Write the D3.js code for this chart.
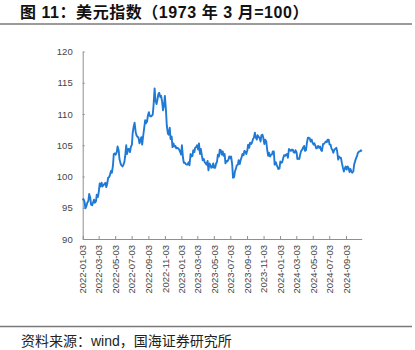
<!DOCTYPE html>
<html>
<head>
<meta charset="utf-8">
<script src="https://cdn.jsdelivr.net/npm/d3@7"></script>
<style>
  html, body { margin: 0; padding: 0; background: #fff; }
  svg { display: block; }
</style>
</head>
<body>
<svg id="chart" width="415" height="350"></svg>
<script>
// US Dollar Index (March 1973 = 100), sampled each Monday and Thursday
const dxy2022 = [
  96.2, 96.4, 95.9, 94.9, 95.3, 95.8, 96.1, 97.2, 96.6,          // Jan
  95.5, 95.4, 95.8, 96.3, 95.8, 96.0, 97.1, 96.7,                // Feb
  97.4, 98.9, 98.4, 99.0, 98.4, 98.6, 98.8, 99.0, 98.3,          // Mar
  98.9, 99.8, 99.9, 100.3, 100.9, 100.6, 101.8, 103.6,           // Apr
  103.7, 103.5, 103.9, 104.8, 104.2, 102.8, 102.1, 101.8, 101.6, // May
  101.8, 102.3, 103.2, 105.0, 103.6, 104.4, 104.4, 103.9, 104.7, // Jun
  105.1, 107.0, 108.1, 108.6, 107.1, 106.6, 106.3, 106.3,        // Jul
  105.3, 105.7, 106.3, 105.1, 106.6, 107.6, 109.0, 108.5, 108.8, // Aug
  109.7, 110.3, 109.7, 109.6, 109.7, 109.9, 111.3, 114.1, 112.2, // Sep
  111.6, 112.2, 113.2, 113.4, 112.7, 112.9, 111.9, 110.6, 111.5, // Oct
  112.9, 110.6, 108.2, 106.9, 106.7, 107.8, 106.0, 106.4,        // Nov
  104.7, 105.3, 104.8, 104.9, 104.5, 104.6, 104.5, 104.3, 104.0  // Dec
];
const dxy2023 = [
  103.5, 105.0, 103.0, 102.2, 102.2, 102.0, 101.9, 101.9, 102.3, // Jan
  101.8, 103.6, 103.2, 103.3, 104.2, 103.9, 104.6, 104.7,        // Feb
  105.0, 104.3, 105.3, 103.6, 104.4, 103.3, 102.6, 102.8, 102.3, // Mar
  102.1, 101.9, 102.5, 101.0, 102.1, 101.8, 101.4, 101.5,        // Apr
  102.1, 101.4, 101.4, 102.0, 102.4, 103.5, 103.2, 104.3, 104.2, // May
  103.5, 104.0, 103.3, 103.6, 102.1, 102.5, 102.4, 102.7, 103.2, // Jun
  102.9, 103.2, 101.9, 99.8, 99.9, 100.8, 101.3, 101.8, 101.9,   // Jul
  102.6, 102.0, 102.6, 103.1, 103.6, 103.4, 104.1, 104.0, 103.6, // Aug
  104.2, 105.1, 104.6, 105.4, 105.2, 105.4, 106.0, 106.2,        // Sep
  107.0, 106.3, 105.9, 106.6, 106.3, 106.2, 105.6, 106.6, 106.7, // Oct
  106.2, 105.2, 105.9, 105.6, 104.4, 103.3, 103.8, 103.2, 103.5, // Nov
  103.5, 104.0, 104.0, 101.9, 102.3, 101.9, 101.5, 101.2         // Dec
];
const dxy2024 = [
  101.3, 102.4, 102.2, 102.3, 103.0, 103.4, 103.3, 103.5, 103.6, // Jan
  103.0, 104.4, 104.2, 104.1, 104.3, 104.3, 103.9, 103.8, 104.2, // Feb
  103.9, 102.8, 102.9, 102.8, 103.6, 104.1, 104.3, 104.6,        // Mar
  104.9, 104.1, 104.2, 105.3, 106.2, 106.2, 106.1, 105.6, 105.9, // Apr
  105.4, 105.1, 105.3, 104.9, 104.5, 104.6, 104.9, 104.6, 104.8, // May
  104.2, 104.1, 105.2, 105.2, 105.4, 105.6, 105.5, 105.9,        // Jun
  105.9, 105.1, 105.1, 104.5, 104.2, 103.8, 104.3, 104.4, 104.6, // Jul
  104.1, 102.7, 103.2, 103.0, 103.0, 102.1, 101.5, 100.8, 101.3, // Aug
  101.6, 101.1, 101.6, 101.4, 100.7, 101.2, 100.8, 100.6, 100.8, // Sep
  101.9, 102.5, 102.9, 103.3, 103.8, 104.0, 104.0, 104.2, 104.0  // Oct
];

const firstDay = "2022-01-03";
const lastDay = "2024-10-31";

const xTickLabels = [
  "2022-01-03", "2022-03-03", "2022-05-03", "2022-07-03", "2022-09-03",
  "2022-11-03", "2023-01-03", "2023-03-03", "2023-05-03", "2023-07-03",
  "2023-09-03", "2023-11-03", "2024-01-03", "2024-03-03", "2024-05-03",
  "2024-07-03", "2024-09-03"
];
const yTicks = [90, 95, 100, 105, 110, 115, 120];

const titleText = "图 11：美元指数（1973 年 3 月=100）";
const sourceText = "资料来源：wind，国海证券研究所";

const parse = d3.timeParse("%Y-%m-%d");
const sampleDays = d3.timeDay
  .range(parse(firstDay), d3.timeDay.offset(parse(lastDay), 1))
  .filter(d => d.getDay() === 1 || d.getDay() === 4);
const values = [...dxy2022, ...dxy2023, ...dxy2024];
const n = Math.min(values.length, sampleDays.length);
const series = d3.range(n).map(i => ({ date: sampleDays[i], value: values[i] }));

const svg = d3.select("#chart");
const latin = "'Liberation Sans', Arial, 'Noto Sans CJK SC', sans-serif";

// header and footer
svg.append("text")
  .attr("x", 20).attr("y", 18)
  .attr("font-family", latin)
  .attr("font-size", 16).attr("font-weight", "bold")
  .attr("letter-spacing", 0.55)
  .attr("fill", "#111")
  .text(titleText);
svg.append("line")
  .attr("x1", 0).attr("x2", 412).attr("y1", 24).attr("y2", 24)
  .attr("stroke", "#7a7a7a").attr("stroke-width", 1.5);
svg.append("line")
  .attr("x1", 0).attr("x2", 412).attr("y1", 326.5).attr("y2", 326.5)
  .attr("stroke", "#7a7a7a").attr("stroke-width", 1.5);
svg.append("text")
  .attr("x", 21).attr("y", 346)
  .attr("font-family", latin)
  .attr("font-size", 14)
  .attr("fill", "#222")
  .text(sourceText);

// scales
const x = d3.scaleTime()
  .domain([parse(firstDay), parse(lastDay)])
  .range([82.7, 361.7]);
const y = d3.scaleLinear()
  .domain([90, 120])
  .range([239, 51.5]);

const axisColor = "#8f8f8f";
const textColor = "#454545";

// y axis
const gy = svg.append("g")
  .attr("transform", `translate(${x.range()[0]},0)`)
  .call(d3.axisLeft(y).tickValues(yTicks).tickSize(-2).tickSizeOuter(0).tickPadding(10));
gy.select(".domain").attr("stroke", axisColor);
gy.selectAll(".tick line").attr("stroke", axisColor);
gy.selectAll("text")
  .attr("font-family", latin).attr("font-size", 9.5).attr("fill", textColor);

// x axis
const gx = svg.append("g")
  .attr("transform", `translate(0,${y.range()[0]})`)
  .call(d3.axisBottom(x).tickValues(xTickLabels.map(parse)).tickSize(-3).tickSizeOuter(0)
    .tickFormat(d3.timeFormat("%Y-%m-%d")));
gx.select(".domain").attr("stroke", axisColor);
gx.selectAll(".tick line").attr("stroke", axisColor);
gx.selectAll("text")
  .attr("font-family", latin).attr("font-size", 9.5).attr("fill", textColor)
  .attr("transform", "rotate(-90)")
  .attr("text-anchor", "end")
  .attr("x", -6).attr("y", 0).attr("dy", "0.34em");

// index line
const line = d3.line()
  .x(d => x(d.date))
  .y(d => y(d.value));
svg.append("path")
  .datum(series)
  .attr("fill", "none")
  .attr("stroke", "#1f7ad6")
  .attr("stroke-width", 1.9)
  .attr("stroke-linejoin", "round")
  .attr("d", line);
</script>
</body>
</html>
